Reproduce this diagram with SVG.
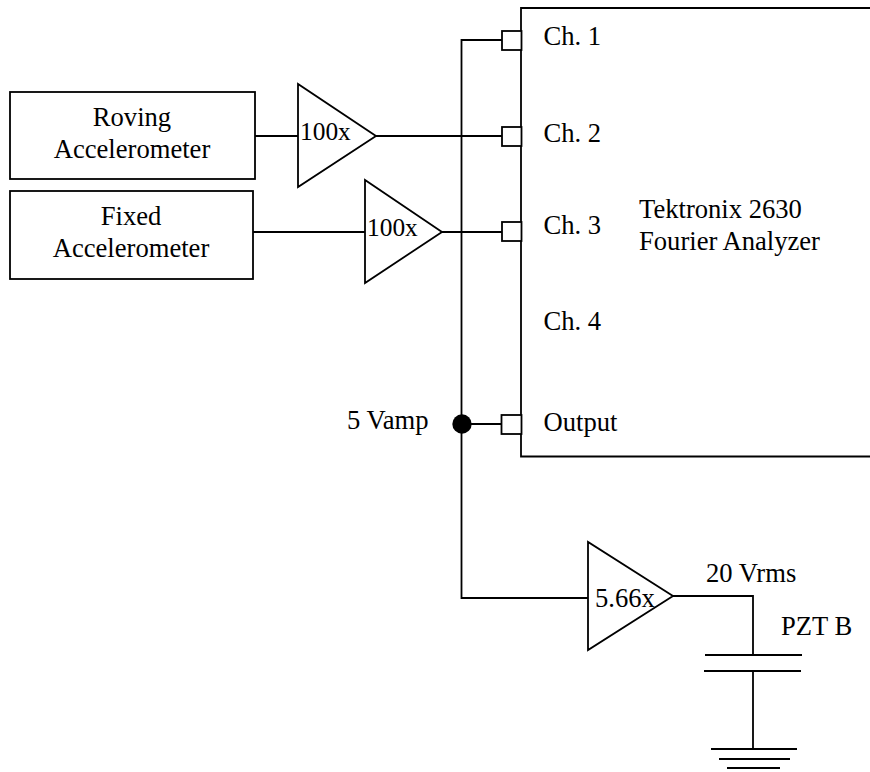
<svg xmlns="http://www.w3.org/2000/svg" width="870" height="772" viewBox="0 0 870 772">
<style>
.s{fill:none;stroke:#000;stroke-width:1.8}
.w{fill:#fff;stroke:#000;stroke-width:1.8}
text{font-family:"Liberation Serif","Times New Roman",serif;font-size:26.6px;fill:#000}
.m{text-anchor:middle}
.g{font-size:25.4px}
</style>
<rect width="870" height="772" fill="#fff"/>
<g id="connectors">
<path class="s" d="M502 40H461.500V598H588M255 136H298M376 136H502M253 232H365M442 232H502M461 424H502M673 596H753V655M753 671V749"/>
<path class="s" d="M705 655H802M704 671H801M711 749H797M719 759H790M727 768H780"/>
</g>
<g id="analyzer"><path class="s" d="M870 8H521V456.500H870"/>
<text x="543.500" y="45">Ch. 1</text><text x="543.500" y="142">Ch. 2</text><text x="543.500" y="234">Ch. 3</text><text x="543.500" y="330">Ch. 4</text><text x="543.500" y="431">Output</text>
<text x="639" y="218">Tektronix 2630</text><text x="639" y="250">Fourier Analyzer</text></g>
<g id="port1"><rect class="w" x="502" y="31" width="19.500" height="19"/></g>
<g id="port2"><rect class="w" x="502" y="127" width="19.500" height="19"/></g>
<g id="port3"><rect class="w" x="502" y="222" width="19.500" height="19"/></g>
<g id="port5"><rect class="w" x="501.500" y="415" width="20" height="19"/></g>
<g id="roving"><rect class="s" x="10" y="92" width="245" height="87"/><text class="m" x="132" y="126">Roving</text><text class="m" x="132" y="158">Accelerometer</text></g>
<g id="fixed"><rect class="s" x="10" y="191" width="243" height="88"/><text class="m" x="131" y="225">Fixed</text><text class="m" x="131" y="257">Accelerometer</text></g>
<g id="amp1"><path class="s" d="M298 84V187L376 136Z"/><text class="g" x="300" y="140">100x</text></g>
<g id="amp2"><path class="s" d="M365 180V283L442 232Z"/><text class="g" x="367" y="236">100x</text></g>
<g id="amp3"><path class="s" d="M588 542V650L673 596Z"/><text x="595" y="607">5.66x</text></g>
<g id="junction"><circle cx="462" cy="424" r="9.700" fill="#000"/><text x="347" y="429">5 Vamp</text></g>
<g id="labels"><text x="706" y="582">20 Vrms</text><text x="781" y="635">PZT B</text></g>
</svg>
